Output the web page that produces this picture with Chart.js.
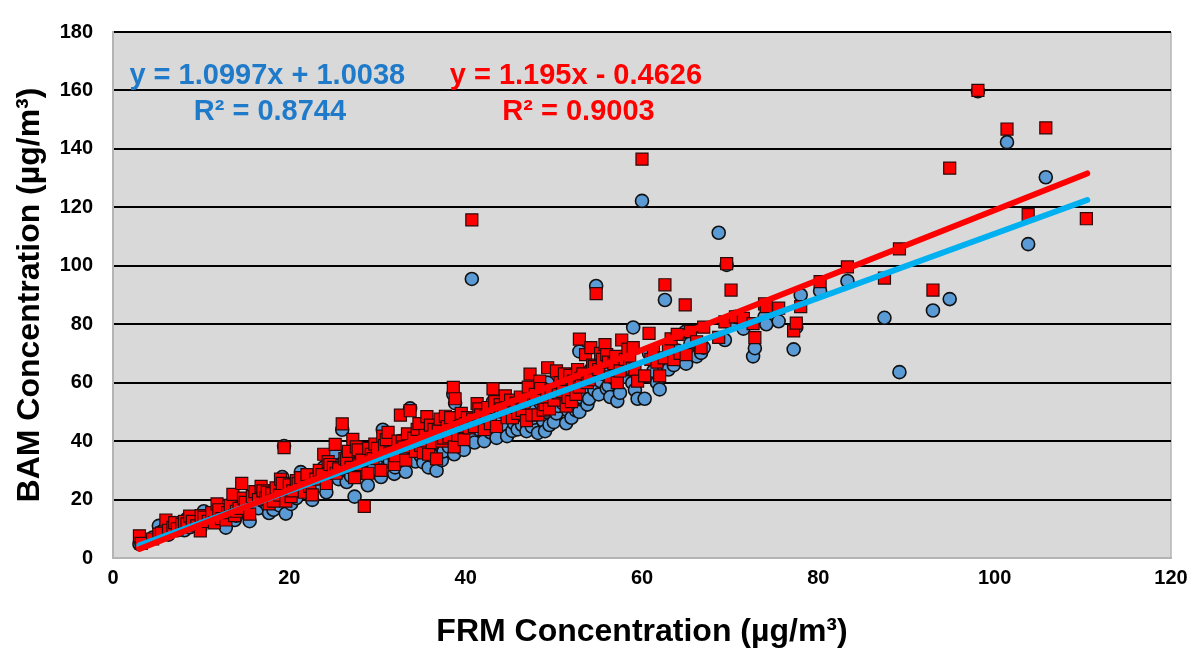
<!DOCTYPE html>
<html>
<head>
<meta charset="utf-8">
<script src="https://cdn.jsdelivr.net/npm/chart.js@4/dist/chart.umd.min.js"></script>
<style>
  html, body { margin: 0; padding: 0; background: #fff; }
  #wrap { width: 1196px; height: 654px; position: relative; }
</style>
</head>
<body>
<div id="wrap"><canvas id="scatterChart"></canvas></div>
<script>
// FRM concentration (x) with the two BAM readings for each sample
var frm = [
  3.0, 3.2, 4.5, 5.2, 5.5, 6.0, 6.3, 6.8, 7.0, 7.3, 7.8, 8.1, 8.4, 8.7, 9.0, 9.5, 9.9, 10.0,
  10.3, 10.8, 11.2, 11.5, 11.8, 12.0, 12.3, 12.8, 13.0, 13.3, 13.6, 13.8, 14.0, 14.3, 14.6, 14.8,
  15.0, 15.5, 15.8, 16.1, 16.5, 16.8, 17.0, 17.3, 17.5, 17.7, 18.0, 18.2, 18.5, 18.9, 19.0, 19.2,
  19.4, 19.6, 20.0, 20.2, 20.4, 20.8, 21.0, 21.3, 21.7, 22.0, 22.3, 22.6, 23.0, 23.4, 23.7, 23.9,
  24.2, 24.4, 24.6, 25.0, 25.2, 25.3, 25.6, 26.0, 26.3, 26.5, 26.7, 27.0, 27.2, 27.4, 27.6, 27.8,
  28.0, 28.2, 28.5, 28.9, 29.0, 29.3, 29.5, 29.7, 30.0, 30.4, 30.6, 30.8, 31.0, 31.2, 31.4, 31.9,
  32.0, 32.3, 32.6, 32.8, 33.0, 33.2, 33.4, 33.7, 34.1, 34.3, 34.5, 34.7, 34.9, 35.2, 35.4, 35.6,
  35.8, 36.0, 36.2, 36.4, 36.7, 36.9, 37.1, 37.3, 37.5, 37.7, 37.9, 38.1, 38.3, 38.6, 38.8, 38.7,
  39.1, 39.3, 39.5, 39.8, 40.0, 40.2, 40.4, 40.7, 40.8, 41.0, 41.3, 41.5, 41.7, 42.1, 42.3, 42.5,
  42.8, 43.1, 43.3, 43.5, 43.9, 44.0, 44.3, 44.5, 44.7, 45.1, 45.3, 45.5, 45.7, 45.9, 46.2, 46.4,
  46.6, 46.9, 47.1, 47.3, 47.5, 47.7, 47.9, 48.2, 48.4, 48.5, 48.8, 49.0, 49.2, 49.3, 49.5, 49.7,
  50.0, 50.3, 50.5, 50.7, 51.0, 51.2, 51.4, 51.6, 51.8, 52.0, 52.2, 52.5, 52.7, 52.9, 52.9, 53.1,
  53.3, 53.6, 53.8, 54.0, 54.2, 54.4, 54.6, 54.8, 55.1, 55.3, 55.5, 55.8, 56.0, 56.2, 56.4, 56.8,
  57.0, 57.2, 57.5, 57.7, 58.1, 58.4, 58.6, 58.9, 59.0, 59.2, 59.5, 60.0, 60.3, 60.8, 61.0, 61.3,
  61.7, 62.0, 62.5, 62.6, 63.0, 63.3, 63.6, 64.0, 64.3, 64.9, 65.0, 65.5, 66.2, 66.7, 67.0, 68.7,
  69.4, 69.6, 70.1, 70.6, 71.5, 72.6, 72.8, 73.9, 74.1, 75.5, 77.2, 77.5, 78.0, 80.2, 83.3, 87.5,
  89.2, 93.0, 94.9, 98.1, 101.4, 103.8, 105.8, 110.4
];
var bamBlue = [
  4.8, 5.5, 7.0, 11.0, 9.0, 10.5, 8.0, 11.5, 12.0, 9.5, 11.0, 9.5, 13.5, 10.5, 12.0, 11.0, 10.0, 12.5,
  16.0, 13.0, 14.5, 13.5, 16.0, 15.5, 12.5, 10.4, 15.0, 17.0, 19.0, 13.0, 14.5, 17.5, 20.0, 18.0,
  16.0, 12.6, 18.5, 20.5, 17.0, 22.0, 19.5, 21.5, 18.0, 15.4, 23.0, 16.5, 20.0, 18.0, 24.5, 27.7,
  38.3, 15.2, 22.0, 18.5, 25.5, 20.5, 23.0, 29.4, 24.0, 27.0, 26.0, 19.9, 25.0, 28.5, 24.5, 31.0,
  22.5, 27.5, 29.0, 33.5, 36.0, 31.5, 27.0, 43.9, 30.5, 26.0, 33.0, 28.0, 37.5, 21.0, 34.0, 31.5,
  29.0, 35.0, 30.0, 24.9, 33.5, 32.0, 30.5, 36.5, 34.0, 27.7, 43.9, 35.0, 38.0, 40.5, 33.0, 28.8,
  31.0, 36.0, 40.0, 37.5, 34.5, 29.5, 38.5, 51.2, 37.0, 33.0, 41.5, 44.5, 35.0, 32.7, 37.5, 42.0,
  31.0, 38.0, 35.0, 40.5, 29.9, 39.0, 43.5, 33.5, 36.5, 46.5, 40.0, 38.0, 44.5, 56.0, 53.0, 35.5,
  38.3, 40.5, 44.0, 37.0, 41.0, 43.5, 46.5, 95.5, 42.2, 39.5, 48.0, 44.0, 45.0, 40.0, 46.0, 47.5,
  43.0, 53.5, 49.5, 41.1, 48.5, 46.5, 45.0, 52.0, 41.7, 50.0, 43.5, 46.0, 49.0, 44.0, 51.0, 45.5,
  48.5, 43.4, 52.5, 58.0, 45.0, 48.0, 50.5, 42.8, 55.0, 53.0, 47.0, 43.4, 50.0, 60.0, 45.5, 52.0,
  46.5, 49.5, 52.0, 55.5, 53.0, 60.5, 46.1, 50.5, 58.5, 48.0, 55.0, 50.5, 59.5, 70.7, 50.0, 55.0,
  57.0, 62.0, 52.5, 54.5, 64.5, 60.0, 57.5, 93.1, 56.0, 60.5, 63.0, 65.0, 58.0, 59.0, 55.1, 61.5,
  63.5, 53.7, 56.5, 66.0, 62.0, 68.5, 64.5, 59.9, 78.9, 57.5, 54.5, 122.2, 54.5, 70.0, 62.0, 64.0,
  60.0, 57.7, 65.5, 88.3, 64.5, 72.5, 66.0, 71.0, 68.0, 77.4, 66.5, 73.5, 69.0, 70.2, 72.0, 111.3,
  74.6, 100.3, 80.0, 82.5, 78.5, 69.0, 71.8, 82.5, 80.0, 81.0, 71.4, 79.0, 90.0, 91.4, 94.8, 82.2,
  63.6, 84.7, 88.6, 159.7, 142.3, 107.4, 130.3, null
];
var bamRed = [
  7.6, 5.0, 6.5, 8.2, 8.5, 13.0, 9.5, 10.5, 12.1, 10.0, 11.5, 12.5, 11.7, 14.3, 12.5, 11.0, 9.3, 14.5,
  14.0, 12.5, 15.5, 12.0, 18.5, 16.5, 13.5, 13.0, 15.5, 18.0, 21.8, 14.5, 16.0, 17.0, 25.5, 20.5,
  19.0, 15.0, 21.0, 22.7, 20.0, 24.5, 23.0, 20.5, 22.5, 18.5, 22.0, 19.5, 24.0, 21.5, 27.0, 25.5,
  37.8, 19.5, 25.0, 21.0, 23.0, 26.5, 25.5, 27.5, 22.5, 28.5, 24.5, 21.6, 27.0, 30.0, 28.5, 35.5,
  25.5, 33.0, 32.0, 31.0, 38.9, 29.0, 30.5, 45.9, 34.0, 33.5, 36.5, 31.0, 40.6, 27.5, 38.0, 37.0,
  32.0, 33.5, 17.7, 29.0, 37.5, 35.5, 34.0, 39.0, 37.5, 30.0, 41.7, 38.5, 40.5, 43.0, 36.0, 32.0,
  35.0, 40.0, 48.9, 40.0, 38.0, 33.5, 42.5, 50.4, 41.0, 36.5, 44.0, 46.0, 38.5, 36.0, 42.0, 48.4,
  35.5, 45.5, 39.5, 44.0, 33.9, 43.5, 47.5, 40.0, 41.0, 48.5, 45.0, 41.5, 48.0, 58.4, 54.5, 38.0,
  42.0, 45.0, 49.5, 40.5, 46.0, 48.0, 44.5, 115.7, 47.5, 45.0, 52.8, 51.0, 49.0, 43.9, 48.5, 51.5,
  46.0, 57.9, 53.5, 45.0, 52.5, 51.0, 50.0, 55.5, 48.0, 54.0, 48.0, 51.5, 53.0, 49.5, 55.1, 50.5,
  53.0, 47.0, 58.5, 62.9, 48.9, 54.5, 56.0, 49.0, 60.5, 58.0, 50.6, 52.5, 55.0, 65.1, 51.0, 57.5,
  54.0, 64.0, 56.5, 60.0, 57.0, 63.0, 52.0, 55.0, 62.5, 53.5, 60.5, 56.0, 64.5, 74.9, 58.5, 61.5,
  63.0, 69.6, 60.0, 61.0, 72.0, 66.0, 65.5, 90.5, 64.5, 70.0, 68.0, 73.0, 69.6, 67.0, 62.0, 66.5,
  69.0, 60.0, 64.0, 74.6, 68.0, 71.5, 67.5, 65.0, 72.0, 64.5, 60.5, 136.5, 62.3, 76.9, 68.0, 70.5,
  67.0, 62.3, 68.5, 93.5, 72.5, 75.0, 67.9, 76.5, 70.0, 86.6, 69.6, 77.5, 74.0, 72.0, 79.0, 75.5,
  80.8, 100.7, 91.7, 82.5, 82.0, 80.2, 75.4, 87.0, 86.0, 85.5, 77.7, 80.4, 86.0, 94.6, 99.6, 95.8,
  105.8, 91.7, 133.4, 160.0, 146.8, 117.5, 147.2, 116.1
];

// linear trend lines, end points
var trendX = [3.0, 110.5];
var trendBlue = [4.3, 122.5];
var trendRed = [3.1, 131.6];

var xTicks = [0, 20, 40, 60, 80, 100, 120];
var yTicks = [0, 20, 40, 60, 80, 100, 120, 140, 160, 180];

var eqBlue = ['y = 1.0997x + 1.0038', 'R\u00B2 = 0.8744'];
var eqRed = ['y = 1.195x - 0.4626', 'R\u00B2 = 0.9003'];

function toPoints(xs, ys) {
  var pts = [];
  for (var i = 0; i < xs.length; i++) {
    if (ys[i] !== null) pts.push({x: xs[i], y: ys[i]});
  }
  return pts;
}

var plotBg = {
  id: 'plotBg',
  beforeDraw: function(chart) {
    var a = chart.chartArea, ctx = chart.ctx;
    ctx.save();
    ctx.fillStyle = '#D9D9D9';
    ctx.fillRect(a.left, a.top, a.right - a.left, a.bottom - a.top);
    ctx.strokeStyle = '#B4B4B4';
    ctx.lineWidth = 1.5;
    ctx.beginPath();
    ctx.moveTo(a.right, a.top);
    ctx.lineTo(a.right, a.bottom);
    ctx.stroke();
    ctx.restore();
  }
};

// equation / R² text in the upper left of the plot
var eqLabels = {
  id: 'eqLabels',
  afterDraw: function(chart) {
    var ctx = chart.ctx;
    var xs = chart.scales.x, ys = chart.scales.y;
    ctx.save();
    ctx.font = 'bold 29px "Liberation Sans", Arial, sans-serif';
    ctx.textAlign = 'center';
    ctx.textBaseline = 'middle';
    ctx.fillStyle = '#1F7BC9';
    ctx.fillText(eqBlue[0], xs.getPixelForValue(17.5), ys.getPixelForValue(164.9));
    ctx.fillText(eqBlue[1], xs.getPixelForValue(17.8), ys.getPixelForValue(152.5));
    ctx.fillStyle = '#FF0000';
    ctx.fillText(eqRed[0], xs.getPixelForValue(52.5), ys.getPixelForValue(164.9));
    ctx.fillText(eqRed[1], xs.getPixelForValue(52.8), ys.getPixelForValue(152.5));
    ctx.restore();
  }
};

var tickFont = {family: '"Liberation Sans", Arial, sans-serif', size: 20, weight: 'bold'};
var titleFont = {family: '"Liberation Sans", Arial, sans-serif', size: 32, weight: 'bold'};

var ctx = document.getElementById('scatterChart');

var scatterChart = new Chart(ctx, {
  type: 'scatter',
  data: {
    datasets: [
      {
        label: 'Red trend',
        data: toPoints(trendX, trendRed),
        showLine: true,
        borderColor: '#FF0000',
        borderWidth: 6,
        borderCapStyle: 'round',
        pointRadius: 0,
        order: 0
      },
      {
        label: 'Blue trend',
        data: toPoints(trendX, trendBlue),
        showLine: true,
        borderColor: '#00B0F0',
        borderWidth: 6,
        borderCapStyle: 'round',
        pointRadius: 0,
        order: 1
      },
      {
        label: 'BAM (red)',
        data: toPoints(frm, bamRed),
        pointStyle: 'rect',
        pointRadius: 8.5,
        backgroundColor: '#FF0000',
        borderColor: '#2a0a0a',
        borderWidth: 1.2,
        order: 2
      },
      {
        label: 'BAM (blue)',
        data: toPoints(frm, bamBlue),
        pointStyle: 'circle',
        pointRadius: 6.5,
        backgroundColor: '#5B9BD5',
        borderColor: '#111111',
        borderWidth: 1.6,
        order: 3
      }
    ]
  },
  options: {
    responsive: true,
    maintainAspectRatio: false,
    animation: false,
    layout: {padding: {top: 21, right: 25, left: 0, bottom: 0}},
    plugins: {
      legend: {display: false},
      tooltip: {enabled: false}
    },
    scales: {
      x: {
        type: 'linear',
        min: 0,
        max: 120,
        afterBuildTicks: function(scale) {
          scale.ticks = xTicks.map(function(v) { return {value: v}; });
        },
        afterFit: function(scale) { scale.height = 96; },
        ticks: {font: tickFont, color: '#000', padding: 8, maxRotation: 0},
        grid: {display: false, drawTicks: false},
        border: {display: true, color: '#B4B4B4', width: 2},
        title: {
          display: true,
          text: 'FRM Concentration (\u00B5g/m\u00B3)',
          font: titleFont,
          color: '#000',
          padding: {top: 0, bottom: 3}
        }
      },
      y: {
        type: 'linear',
        min: 0,
        max: 180,
        afterBuildTicks: function(scale) {
          scale.ticks = yTicks.map(function(v) { return {value: v}; });
        },
        afterFit: function(scale) { scale.width = 113; },
        ticks: {font: tickFont, color: '#000', padding: 20},
        grid: {
          color: function(c) { return (c.tick && c.tick.value === 0) ? 'rgba(0,0,0,0)' : '#000'; },
          lineWidth: 2,
          drawTicks: false
        },
        border: {display: true, color: '#B4B4B4', width: 2},
        title: {
          display: true,
          text: 'BAM Concentration (\u00B5g/m\u00B3)',
          font: titleFont,
          color: '#000',
          padding: {top: 11, bottom: 0}
        }
      }
    }
  },
  plugins: [plotBg, eqLabels]
});
</script>
</body>
</html>
